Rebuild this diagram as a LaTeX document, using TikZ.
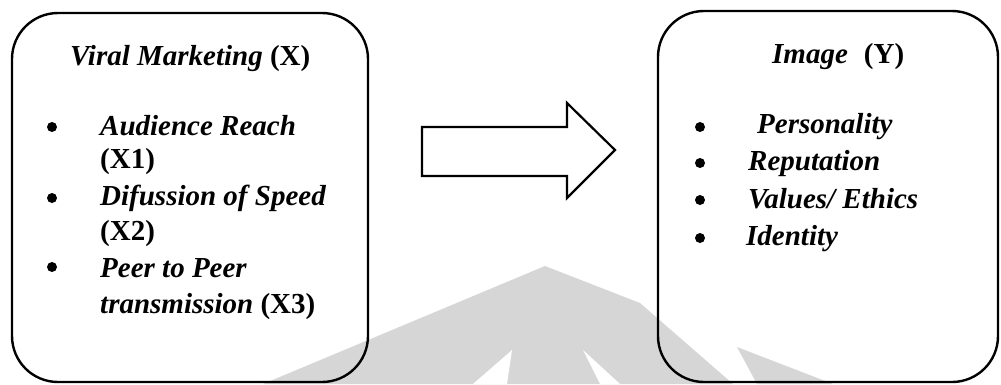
\documentclass[tikz,border=0pt]{standalone}
\usepackage{fontspec}
\setmainfont{Liberation Serif}
\definecolor{wm}{RGB}{214,214,214}
\begin{document}
\begin{tikzpicture}[x=1pt,y=-1pt,
  box/.style={draw=black, line width=2.4pt, rounded corners=46pt, inner sep=0pt},
  txt/.style={anchor=base west, inner sep=0pt, font=\fontsize{29}{35}\selectfont\bfseries\itshape},
  dot/.style={circle, fill=black, inner sep=0pt, minimum size=10pt}]
\useasboundingbox (0,0) rectangle (1001,384);
% watermark (background)
\fill[wm] (263,384) -- (545,266) -- (640,303) -- (733,384) -- cycle;
\fill[white] (512,350) -- (473,384) -- (507,384) -- cycle;
\fill[white] (583,350) -- (600,384) -- (620,384) -- cycle;
\fill[wm] (737,347) -- (833,384) -- (757,384) -- cycle;
% boxes
\node[box, minimum width=356pt, minimum height=369pt] (lbox) at (190,197.5) {};
\node[box, minimum width=340pt, minimum height=371pt] (rbox) at (828,196.5) {};
% arrow
\draw[line width=2.2pt, line join=miter] (422,127) -- (567,127) -- (567,103) -- (615,150) -- (567,198) -- (567,176) -- (422,176) -- cycle;
% left texts
\node[txt] (lt) at (70,65) {Viral Marketing \textup{(X)}};
\node[dot] (lb1) at (52,127) {};
\node[dot] (lb2) at (52,198) {};
\node[dot] (lb3) at (52,267) {};
\node[txt] (l1a) at (100,135) {Audience Reach};
\node[txt] (l1b) at (100,168) {\textup{(X1)}};
\node[txt] (l2a) at (100,205) {Difussion of Speed};
\node[txt] (l2b) at (100,240) {\textup{(X2)}};
\node[txt] (l3a) at (100,277) {Peer to Peer};
\node[txt] (l3b) at (100,313) {transmission \textup{(X3)}};
% right texts
\node[txt] (rt) at (772,63) {Image\hspace{16pt}\textup{(Y)}};
\node[dot] (rb1) at (700,127) {};
\node[dot] (rb2) at (700,163) {};
\node[dot] (rb3) at (700,200) {};
\node[dot] (rb4) at (700,238) {};
\node[txt] (r1) at (757,133) {Personality};
\node[txt] (r2) at (748,170) {Reputation};
\node[txt] (r3) at (748,208) {Values/ Ethics};
\node[txt] (r4) at (746,245) {Identity};
\end{tikzpicture}
\end{document}
